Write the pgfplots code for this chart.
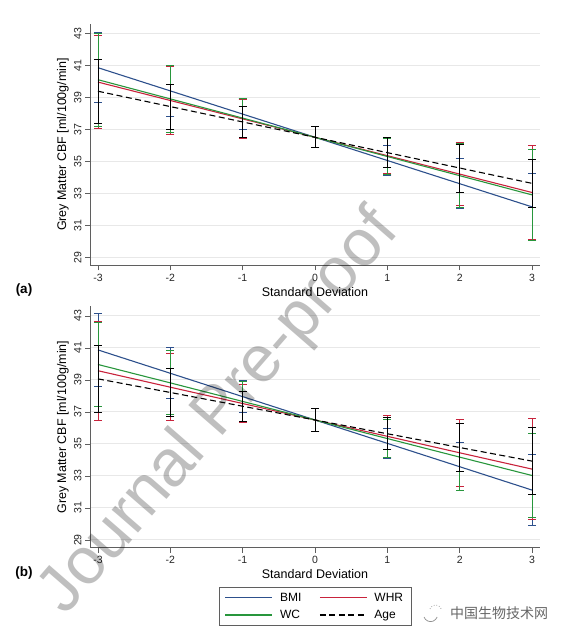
\documentclass[border=0pt]{standalone}
\usepackage{fontspec}
\setmainfont{Liberation Sans}
\newfontfamily\cjk{Noto Sans CJK SC}
\usepackage{pgfplots}
\pgfplotsset{compat=1.18}
\definecolor{cBMI}{RGB}{45,80,140}
\definecolor{cWHR}{RGB}{200,35,60}
\definecolor{cWC}{RGB}{40,150,60}
\definecolor{axgray}{RGB}{95,95,95}
\definecolor{gridc}{RGB}{232,232,232}
\pgfplotsset{
  cbf/.style={
    scale only axis, width=450pt, height=241.6pt,
    xmin=-3.11, xmax=3.11, ymin=28.5, ymax=43.6,
    axis x line*=bottom, axis y line*=left,
    axis line style={axgray, line width=1pt, -},
    xtick={-3,-2,-1,0,1,2,3}, ytick={29,31,33,35,37,39,41,43},
    tick align=outside, major tick length=5pt,
    tick style={axgray, line width=0.8pt},
    ymajorgrids, grid style={gridc, line width=1pt},
    /pgf/number format/assume math mode=true,
    ticklabel style={font=\fontsize{10.5}{12}\selectfont, text=black!85},
    yticklabel style={rotate=90, anchor=south},
    xlabel={Standard Deviation},
    ylabel={Grey Matter CBF [ml/100g/min]},
    xlabel style={at={(axis description cs:0.5,0)}, anchor=center, yshift=-26.4pt, font=\fontsize{12.5}{14}\selectfont},
    ylabel style={at={(axis description cs:-0.06,0.5)}, anchor=center, font=\fontsize{12.5}{14}\selectfont},
    clip=false,
  },
  ser/.style={line width=1.1pt, #1, error bars/.cd, y dir=both, y explicit,
    error bar style={line width=0.9pt, solid, #1},
    error mark=|, error mark options={mark size=4pt, line width=0.9pt, solid, #1}},
}
\begin{document}
\begin{tikzpicture}
\path[use as bounding box] (0,0) rectangle (569pt,639pt);
% ---------------- panel (a)
\begin{axis}[cbf, at={(90pt,373.7pt)}, anchor=south west]
\addplot[ser=cBMI] table[x=x,y=y,y error=e] {
x y e
-3 40.85 2.2
-2 39.40 1.6
-1 37.95 0.95
0 36.50 0.65
1 35.05 0.95
2 33.60 1.55
3 32.15 2.1
};
\addplot[ser=cWHR] table[x=x,y=y,y error=e] {
x y e
-3 39.95 2.9
-2 38.80 2.1
-1 37.65 1.2
0 36.50 0.65
1 35.35 1.1
2 34.20 1.95
3 33.05 2.95
};
\addplot[ser=cWC] table[x=x,y=y,y error=e] {
x y e
-3 40.10 2.9
-2 38.90 2.1
-1 37.70 1.2
0 36.50 0.65
1 35.30 1.15
2 34.10 2.0
3 32.90 2.85
};
\addplot[dash pattern=on 6pt off 3.5pt, ser=black] table[x=x,y=y,y error=e] {
x y e
-3 39.38 2.0
-2 38.42 1.4
-1 37.46 0.95
0 36.50 0.65
1 35.54 0.95
2 34.58 1.5
3 33.62 1.5
};
\end{axis}
% ---------------- panel (b)
\begin{axis}[cbf, at={(90pt,91pt)}, anchor=south west,
  legend columns=2, legend cell align=left,
  legend image code/.code={\draw[#1, line width=1.1pt] (0pt,0pt) -- (47pt,0pt); \path (52pt,0pt);},
  legend style={at={(0.5,-0.163)}, anchor=north, draw=axgray, line width=0.8pt,
    font=\fontsize{12}{14}\selectfont, inner xsep=6pt, inner ysep=3pt, row sep=3.5pt,
    /tikz/every even column/.append style={column sep=16pt}},
]
\addplot[ser=cBMI] table[x=x,y=y,y error=e] {
x y e
-3 40.88 2.3
-2 39.42 1.6
-1 37.96 1.0
0 36.50 0.7
1 35.04 0.95
2 33.58 1.5
3 32.12 2.2
};
\addlegendentry{BMI}
\addplot[ser=cWHR] table[x=x,y=y,y error=e] {
x y e
-3 39.58 3.1
-2 38.55 2.1
-1 37.53 1.2
0 36.50 0.7
1 35.48 1.3
2 34.45 2.1
3 33.43 3.15
};
\addlegendentry{WHR}
\addplot[ser=cWC] table[x=x,y=y,y error=e] {
x y e
-3 39.97 2.65
-2 38.82 2.0
-1 37.66 1.25
0 36.50 0.7
1 35.34 1.2
2 34.18 2.1
3 33.03 2.65
};
\addlegendentry{WC}
\addplot[dash pattern=on 6pt off 3.5pt, ser=black] table[x=x,y=y,y error=e] {
x y e
-3 39.07 2.1
-2 38.22 1.5
-1 37.36 0.95
0 36.50 0.7
1 35.64 1.0
2 34.78 1.5
3 33.93 2.1
};
\addlegendentry{Age}
\end{axis}
% panel labels
\node[font=\bfseries\fontsize{13.5}{15}\selectfont] at (24pt,349pt) {(a)};
\node[font=\bfseries\fontsize{13.5}{15}\selectfont] at (24pt,66pt) {(b)};
% watermark
\node[rotate=49, text=black, text opacity=0.25, font=\fontsize{66}{66}\selectfont] at (220pt,226pt) {Journal Pre-proof};
% logo text
\node[font=\cjk\fontsize{14}{14}\selectfont, text=black!60] at (499pt,26pt) {中国生物技术网};
\draw[black!45, line width=0.7pt] (424pt,22pt) arc[start angle=200, end angle=340, radius=7pt];
\draw[black!45, line width=0.7pt, dotted] (430pt,30pt) arc[start angle=160, end angle=20, radius=6pt];
\end{tikzpicture}
\end{document}
